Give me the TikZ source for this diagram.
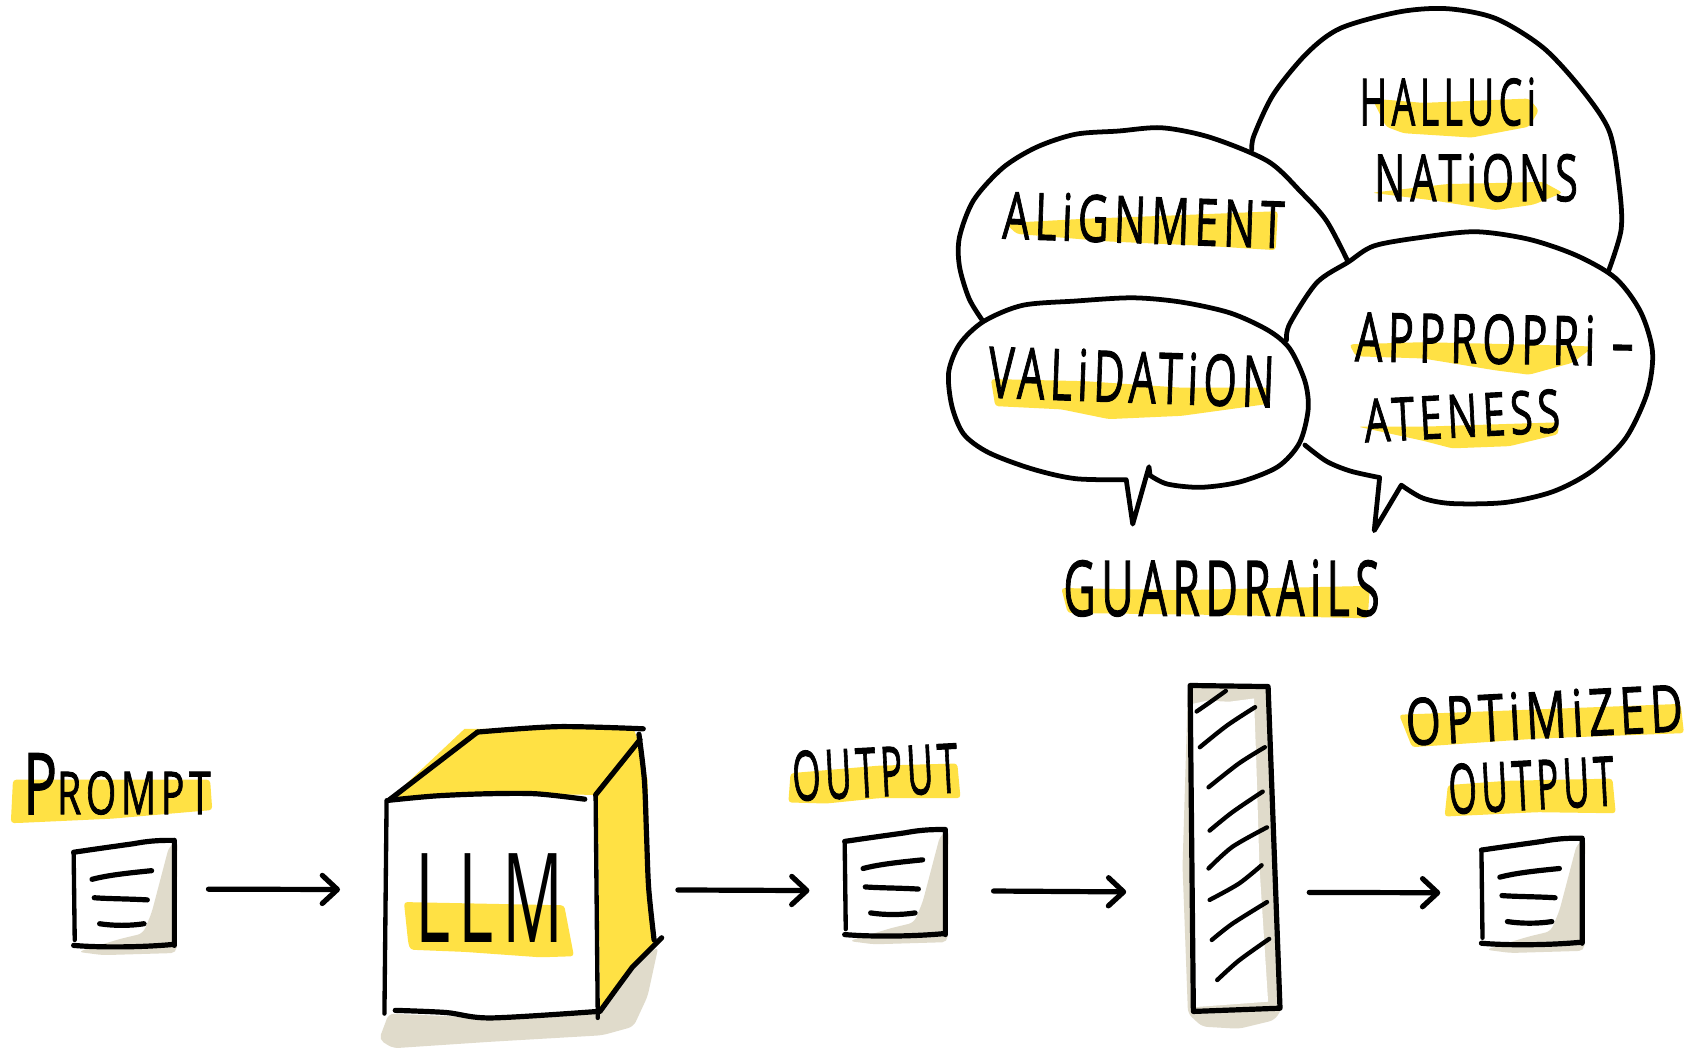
\documentclass[tikz,border=0pt]{standalone}
\usepackage{fontspec}
\usepackage{graphicx}
\setmainfont[LetterSpace=12]{Open Sans}
\newfontfamily\handfont[LetterSpace=12,FakeBold=1.6]{Open Sans}
\usetikzlibrary{arrows.meta}
\definecolor{hly}{HTML}{FFE144}
\definecolor{shd}{HTML}{E0DBCB}
\tikzset{
  ink/.style={draw=black,line width=4.8pt,line cap=round,line join=round},
  thinink/.style={draw=black,line width=4pt,line cap=round,line join=round},
  hl/.style={fill=hly,rounded corners=3pt},
  shade/.style={fill=shd,rounded corners=5pt},
  bubble/.style={draw=black,line width=4.4pt,line cap=round,line join=round,fill=white},
  lbl/.style={inner sep=0pt,outer sep=0pt,text=black,font=\handfont},
  flow/.style={ink,-{Straight Barb[length=14pt,width=26pt,round]}},
  anchorbox/.style={inner sep=0pt,outer sep=0pt,minimum height=90pt},
  docsheet/.pic={
    \path[shade] (156,782)--(140,843)--(132,862)--(111,867)--(72,879)--(95,882)--(163,880)--(164,776)--cycle;
    \draw[ink,fill=none] (68,787) .. controls (95,783) and (110,781) .. (124,779) .. controls (140,776) and (150,776) .. (161,776) -- (161,873);
    \draw[thinink] (68,787) -- (69,868);
    \draw[ink] (68,873) .. controls (90,875) and (130,875) .. (161,872);
    \draw[ink] (85,812) .. controls (100,808) and (120,806) .. (140,804);
    \draw[ink] (87,829) .. controls (100,830) and (120,830) .. (136,831);
    \draw[ink] (92,853) .. controls (105,855) and (120,855) .. (133,853);
  }
}
\newcommand{\wtxt}[3]{\resizebox{#1pt}{#2pt}{#3}}
\begin{document}
\begin{tikzpicture}[x=1pt,y=-1pt]
\fill[white] (0,0) rectangle (1568,969);
\useasboundingbox (0,0) rectangle (1568,969);

% ---- bubbles
\draw[bubble] plot[smooth] coordinates {(1156,138) (1158,125) (1176,87) (1207,49) (1238,26) (1292,11) (1336,8) (1381,17) (1425,44) (1461,83) (1486,121) (1495,170) (1497,212) (1484,254)};
\draw[bubble] plot[smooth] coordinates {(908,297) (895,276) (886,246) (886,219) (899,185) (926,155) (957,136) (993,124) (1033,121) (1073,118) (1118,127) (1171,149) (1202,178) (1225,204) (1245,242)};
\draw[bubble] plot[smooth] coordinates {(1205,411) (1225,426) (1247,435) (1274,441)} -- (1269,490) -- plot[smooth] coordinates {(1294,448) (1314,460) (1341,465) (1390,464) (1434,454) (1470,435) (1501,405) (1521,363) (1526,325) (1515,288) (1492,257) (1456,236) (1412,221) (1363,214) (1314,219) (1269,227) (1245,242) (1216,261) (1191,299) (1188,314)};
\draw[bubble] plot[smooth] coordinates {(1040,443) (993,442) (953,433) (913,418) (890,401) (879,375) (876,344) (886,318) (908,297) (944,282) (993,278) (1046,275) (1091,279) (1136,289) (1171,305) (1191,322) (1205,352) (1208,378) (1200,409) (1180,431) (1145,445) (1109,450) (1078,447) (1062,439)} -- (1061,431) -- (1046,484) -- cycle;

% ---- highlights
\fill[hl] (12,720)--(194,720)--(196,748)--(103,756)--(16,760)--(10,760)--cycle;
\fill[hl] (373,833)--(521,836)--(530,883)--(499,884)--(429,879)--(379,877)--(377,871)--cycle;
\fill[hl] (730,714)--(812,707)--(884,705)--(887,737)--(812,737)--(763,742)--(728,741)--cycle;
\fill[hl] (1292,660)--(1552,650)--(1555,677)--(1420,682)--(1304,690)--cycle;
\fill[hl] (1337,725)--(1392,721)--(1489,719)--(1492,751)--(1420,750)--(1334,754)--cycle;
\fill[hl] (928,206)--(1002,202)--(1082,199)--(1180,195)--(1178,231)--(1113,227)--(1024,223)--(939,216)--cycle;
\fill[hl] (915,350)--(1002,352)--(1091,358)--(1171,358)--(1171,373)--(1091,384)--(1024,387)--(980,378)--(919,375)--cycle;
\fill[hl] (1267,91)--(1314,95)--(1412,91)--(1421,102)--(1412,117)--(1359,127)--(1296,123)--(1280,117)--cycle;
\fill[hl] (1267,178)--(1336,170)--(1425,168)--(1443,178)--(1416,189)--(1381,194)--(1323,185)--cycle;
\fill[hl] (1246,318)--(1314,316)--(1403,318)--(1472,320)--(1452,335)--(1412,346)--(1381,342)--(1314,331)--(1252,329)--cycle;
\fill[hl] (1254,394)--(1314,394)--(1439,390)--(1439,401)--(1394,412)--(1341,414)--(1314,407)--cycle;
\fill[hl] (980,543)--(1091,545)--(1265,541)--(1263,571)--(1136,568)--(986,566)--cycle;

% ---- LLM cube
\path[shade] (359,936)--(350,960)--(363,968)--(453,962)--(556,956)--(585,948)--(598,920)--(608,874)--(577,899)--(554,934)--(453,940)--cycle;
\fill[hly] (359,739)--(429,673)--(585,673)--(589,683)--(550,734)--(453,733)--cycle;
\fill[hly] (552,734)--(589,683)--(598,720)--(600,813)--(604,870)--(577,899)--(554,931)--cycle;
\draw[ink] plot[smooth] coordinates {(359,739) (402,735) (449,733) (495,733) (540,738)};
\draw[thinink] (357,739) -- (355,936);
\draw[thinink] (550,734) -- (552,940);
\draw[ink] plot[smooth] coordinates {(365,933) (412,935) (453,940) (552,934)};
\draw[ink] (359,739) -- (441,676);
\draw[ink] plot[smooth] coordinates {(441,676) (515,671) (594,673)};
\draw[ink] (550,734) -- (591,683);
\draw[ink] plot[smooth] coordinates {(590,678) (595,720) (597,770) (599,820) (604,868)};
\draw[ink] (611,866) -- (584,893) -- (570,912) -- (554,934);

% ---- documents
\pic at (0,0) {docsheet};
\pic at (712,-10) {docsheet};
\pic at (1300,-2) {docsheet};

% ---- guardrail bar
\path[shade] (1097,635)--(1092,800)--(1097,936)--(1110,948)--(1144,950)--(1177,942)--(1184,931)--(1173,633)--cycle;
\fill[white] (1101,650)--(1115,647)--(1135,648)--(1158,645)--(1160,700)--(1163,800)--(1171,925)--(1103,930)--cycle;
\draw[ink] (1099,633) -- (1171,634) -- (1182,931) -- (1102,934) -- cycle;
\draw[thinink] plot[smooth] coordinates {(1105,657) (1118,648) (1132,638)};
\draw[thinink] plot[smooth] coordinates {(1108,690) (1133,670) (1159,653)};
\draw[thinink] plot[smooth] coordinates {(1116,727) (1144,705) (1168,690)};
\draw[thinink] plot[smooth] coordinates {(1117,767) (1138,750) (1166,731)};
\draw[thinink] plot[smooth] coordinates {(1116,802) (1138,782) (1170,764)};
\draw[thinink] plot[smooth] coordinates {(1117,831) (1144,816) (1165,799)};
\draw[thinink] plot[smooth] coordinates {(1119,868) (1138,853) (1170,833)};
\draw[thinink] plot[smooth] coordinates {(1124,905) (1144,887) (1172,867)};

% ---- flow nodes (invisible extents) and connectors
\node[anchorbox,minimum width=95pt]  (doc1) at (115,821) {};
\node[anchorbox,minimum width=196pt] (llm)  at (455,821.5) {};
\node[anchorbox,minimum width=95pt]  (doc2) at (827,822.5) {};
\node[anchorbox,minimum width=84pt]  (bar)  at (1140,824) {};
\node[anchorbox,minimum width=95pt]  (doc3) at (1415.5,824.5) {};
\draw[flow,shorten <=30pt,shorten >=43pt] (doc1.east) -- (llm.west);
\draw[flow,shorten <=73pt,shorten >=32pt] (llm.east) -- (doc2.west);
\draw[flow,shorten <=43pt,shorten >=58pt] (doc2.east) -- (bar.west);
\draw[flow,shorten <=27pt,shorten >=38pt] (bar.east) -- (doc3.west);

% ---- labels
\node[lbl] (lprompt) at (108,724) {\wtxt{173}{56}{{\Large P}ROMPT}};
\node[lbl,font=\normalfont] (lllm) at (452,829) {\wtxt{136}{82}{LLM}};
\node[lbl,rotate=3] (loutput) at (808,713) {\wtxt{153}{46}{OUTPUT}};
\node[lbl,rotate=3] (lopt) at (1426,660) {\wtxt{256}{44}{OPTiMiZED}};
\node[lbl,rotate=3] (loutputb) at (1414,725) {\wtxt{153}{46}{OUTPUT}};
\node[lbl,rotate=-2] (lalign) at (1056,203) {\wtxt{260}{44}{ALiGNMENT}};
\node[lbl,rotate=-2] (lvalid) at (1045,348) {\wtxt{264}{48}{VALiDATiON}};
\node[lbl] (lhall) at (1337,94) {\wtxt{163}{44}{HALLUCi}};
\node[lbl] (lnat) at (1363,164) {\wtxt{188}{44}{NATiONS}};
\node[lbl,rotate=-1] (lappr) at (1380,313) {\wtxt{257}{46}{APPROPRi –}};
\node[lbl,rotate=3] (late) at (1350,384) {\wtxt{181}{40}{ATENESS}};
\node[lbl] (lguard) at (1128,543) {\wtxt{292}{52}{GUARDRAiLS}};
\end{tikzpicture}
\end{document}
